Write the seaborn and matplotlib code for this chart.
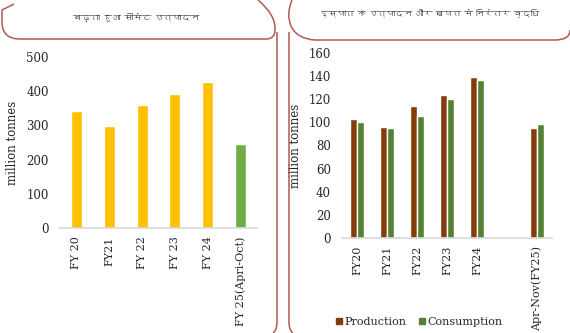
import matplotlib
matplotlib.use("Agg")
import matplotlib.pyplot as plt
from matplotlib import font_manager
from matplotlib.path import Path
from matplotlib.patches import PathPatch
from matplotlib.lines import Line2D
import seaborn as sns
import pandas as pd

# ---------------- data ----------------
cement_years = ["FY 20", "FY21", "FY 22", "FY 23", "FY 24", "FY 25(Apri-Oct)"]
cement_values = [343, 299, 360, 391, 427, 247]
cement_colors = ["#FFC000", "#FFC000", "#FFC000", "#FFC000", "#FFC000", "#70AD47"]

steel_years = ["FY20", "FY21", "FY22", "FY23", "FY24", "Apr-Nov(FY25)"]
steel_order = ["FY20", "FY21", "FY22", "FY23", "FY24", " ", "Apr-Nov(FY25)"]
steel_production = [103, 96, 114, 123.5, 139.5, 95]
steel_consumption = [100.5, 95, 106, 120, 137, 98.5]
series_names = ["Production", "Consumption"]
series_colors = ["#843C0C", "#548235"]

title_left = "बढ़ता हुआ सीमेंट उत्पादन"
title_right = "इस्पात के उत्पादन और खपत में निरंतर वृद्धि"
ylabel = "million tonnes"

# ---------------- fonts ----------------
sns.set_theme(style="white")
deva_fams = []
try:
    from fontTools.ttLib import TTFont
    for f in font_manager.fontManager.ttflist:
        try:
            tt = TTFont(f.fname, fontNumber=0, lazy=True)
            cmap = tt.getBestCmap()
            if cmap and 0x0915 in cmap and f.name not in deva_fams:
                deva_fams.append(f.name)
        except Exception:
            pass
except Exception:
    pass
serif = "DejaVu Serif"
plt.rcParams["font.family"] = [serif] + deva_fams + ["DejaVu Sans"]
text_color = "#262626"

W, H = 570, 333
fig = plt.figure(figsize=(W / 100, H / 100), dpi=100)

def fx(x):
    return x / W

def fy(y):
    return 1 - y / H

def style_axis(ax):
    ax.set_xlabel("")
    ax.set_ylabel(ylabel, fontsize=8.5, color=text_color, labelpad=5)
    ax.tick_params(axis="y", length=0, labelsize=8.5, colors=text_color, pad=8)
    ax.tick_params(axis="x", length=0, labelsize=8, colors=text_color, pad=6)
    for lab in ax.get_xticklabels():
        lab.set_rotation(90)
    for s in ["top", "right", "left"]:
        ax.spines[s].set_visible(False)
    ax.spines["bottom"].set_color("#d9d9d9")

# ---------------- left chart ----------------
axL = fig.add_axes([fx(60), fy(228), fx(257) - fx(60), fy(57) - fy(228)])
dfL = pd.DataFrame({"year": cement_years, "value": cement_values})
sns.barplot(data=dfL, x="year", y="value", hue="year", palette=cement_colors,
            order=cement_years, width=0.33, legend=False, ax=axL, saturation=1)
axL.set_ylim(0, 500)
axL.set_yticks([0, 100, 200, 300, 400, 500])
style_axis(axL)

# ---------------- right chart ----------------
axR = fig.add_axes([fx(342), fy(237.7), fx(552) - fx(342), fy(53.3) - fy(237.7)])
rows = []
for yr, p, c in zip(steel_years, steel_production, steel_consumption):
    rows.append({"year": yr, "series": series_names[0], "value": p})
    rows.append({"year": yr, "series": series_names[1], "value": c})
dfR = pd.DataFrame(rows)
sns.barplot(data=dfR, x="year", y="value", hue="series", order=steel_order,
            hue_order=series_names, palette=series_colors, width=0.52, gap=0.1,
            ax=axR, saturation=1, legend=False)
axR.set_ylim(0, 160)
axR.set_yticks(range(0, 161, 20))
style_axis(axR)

handles = [Line2D([], [], marker="s", linestyle="none", markersize=5,
                  markerfacecolor=c, markeredgecolor=c) for c in series_colors]
fig.legend(handles, series_names, loc="center", bbox_to_anchor=(fx(418), fy(322)),
           ncol=2, frameon=False, fontsize=8, handletextpad=0.0, handlelength=1.0,
           columnspacing=0.9, labelcolor=text_color)

# ---------------- frames ----------------
frame_color = "#B05A55"

def add_path(pts, codes):
    verts = [(fx(x), fy(y)) for x, y in pts]
    p = PathPatch(Path(verts, codes), transform=fig.transFigure, fill=False,
                  edgecolor=frame_color, lw=1.1)
    fig.add_artist(p)

M, L, C = Path.MOVETO, Path.LINETO, Path.CURVE3
# left title box
add_path([(258, 0), (276, 15), (275, 30), (275, 39), (266, 39), (20, 39),
          (2, 39), (2, 22), (2, 10), (14, 4)],
         [M, C, C, C, C, L, C, C, L, L])
# left vertical line
add_path([(277, 32), (277, 322), (277, 330), (273, 333)], [M, L, C, C])
# right vertical line
add_path([(289, 32), (289, 322), (289, 330), (293, 333)], [M, L, C, C])
# right title box
add_path([(292, 0), (286, 14), (291, 26), (297, 39), (315, 40), (555, 40),
          (570, 40), (570, 30)],
         [M, C, C, C, C, L, C, C])

# titles
fig.text(fx(136), fy(18), title_left, ha="center", va="center", fontsize=6.5,
         color=text_color, fontweight="bold")
fig.text(fx(430), fy(14), title_right, ha="center", va="center", fontsize=6.2,
         color=text_color, fontweight="bold")

fig.savefig("out.png", dpi=100)
